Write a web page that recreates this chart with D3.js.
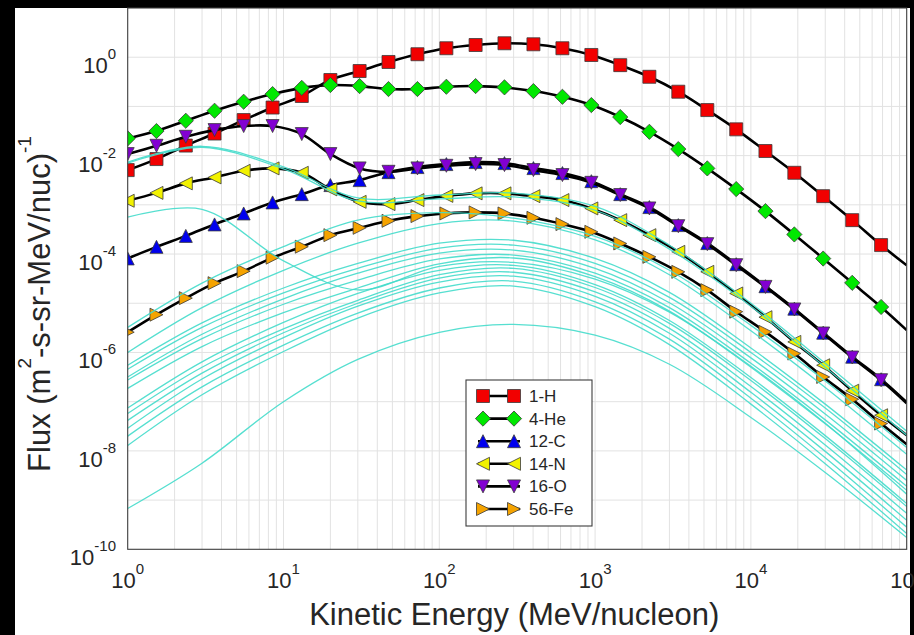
<!DOCTYPE html>
<html>
<head>
<meta charset="utf-8">
<script src="https://cdn.jsdelivr.net/npm/d3@7"></script>
<style>
  html, body { margin: 0; padding: 0; background: #000; }
  svg { display: block; }
  text { font-family: "Liberation Sans", Arial, Helvetica, sans-serif; }
</style>
</head>
<body>
<svg id="chart" width="914" height="635"></svg>
<script>
// ---- Data -------------------------------------------------------------
// Kinetic energy grid (MeV/nucleon) for the marked species; the last point
// only carries the line to the edge of the axis and gets no marker.
const energy = [1, 1.53, 2.36, 3.61, 5.55, 8.51, 13.1, 20.0, 30.8, 47.2, 72.4, 111, 171, 262,
  402, 617, 946, 1450, 2230, 3420, 5250, 8050, 12400, 19000, 29100, 44700, 68500, 100000];

// Flux, (m^2 s sr MeV/nuc)^-1
const fluxH = [5.08e-3, 8.51e-3, 1.60e-2, 2.81e-2, 5.28e-2, 9.48e-2, 0.163, 0.344, 0.524, 0.80,
  1.15, 1.52, 1.77, 1.92, 1.83, 1.52, 1.11, 0.69, 0.40, 0.199, 0.0843, 0.0342, 0.0124,
  4.48e-3, 1.50e-3, 4.89e-4, 1.52e-4, 5.9e-5];
const fluxHe = [0.0224, 0.0316, 0.0511, 0.0817, 0.1245, 0.178, 0.238, 0.272, 0.259, 0.2255,
  0.2255, 0.251, 0.259, 0.244, 0.205, 0.157, 0.1066, 0.0608, 0.0305, 0.01358, 5.5e-3,
  2.09e-3, 7.45e-4, 2.5e-4, 8.1e-5, 2.6e-5, 8.4e-6, 2.84e-6];
const fluxC = [8.14e-5, 1.40e-4, 2.34e-4, 4.0e-4, 6.68e-4, 1.12e-3, 1.65e-3, 2.52e-3, 3.18e-3,
  4.62e-3, 5.85e-3, 6.73e-3, 7.39e-3, 7.05e-3, 5.58e-3, 4.42e-3, 3.03e-3, 1.65e-3, 9.0e-4,
  3.87e-4, 1.67e-4, 6.23e-5, 2.22e-5, 7.76e-6, 2.52e-6, 8.2e-7, 2.86e-7, 9.7e-8];
const fluxN = [1.21e-3, 1.75e-3, 2.73e-3, 3.61e-3, 4.92e-3, 5.5e-3, 4.48e-3, 2.06e-3, 1.15e-3,
  1.035e-3, 1.25e-3, 1.52e-3, 1.71e-3, 1.71e-3, 1.50e-3, 1.25e-3, 8.45e-4, 4.89e-4, 2.42e-4,
  1.11e-4, 4.35e-5, 1.58e-5, 5.21e-6, 1.64e-6, 5.5e-7, 1.67e-7, 5.3e-8, 2.08e-8];
const fluxO = [0.01074, 0.01585, 0.02415, 0.0330, 0.0399, 0.0399, 0.0274, 0.01074, 5.5e-3,
  4.69e-3, 5.5e-3, 6.21e-3, 6.73e-3, 6.43e-3, 5.08e-3, 4.02e-3, 2.8e-3, 1.58e-3, 8.45e-4,
  3.69e-4, 1.59e-4, 5.94e-5, 2.15e-5, 7.48e-6, 2.43e-6, 7.9e-7, 2.73e-7, 9.3e-8];
const fluxFe = [2.58e-6, 5.86e-6, 1.27e-5, 2.56e-5, 4.49e-5, 8.45e-5, 1.41e-4, 2.42e-4, 3.41e-4,
  4.73e-4, 5.9e-4, 6.68e-4, 7.02e-4, 6.68e-4, 5.45e-4, 4.06e-4, 2.83e-4, 1.64e-4, 8.77e-5,
  4.35e-5, 1.85e-5, 6.74e-6, 2.62e-6, 9.5e-7, 3.18e-7, 1.12e-7, 3.59e-8, 1.36e-8];

const seriesNames = ["1-H", "4-He", "12-C", "14-N", "16-O", "56-Fe"];
const seriesFlux = [fluxH, fluxHe, fluxC, fluxN, fluxO, fluxFe];

// Remaining species (no markers): log10 of flux on a coarser energy grid
const otherEnergy = [1, 3, 10, 30, 100, 300, 1000, 3000, 10000, 30000, 100000];
const otherLogFlux = [
  [-2.13, -1.81, -2.23, -2.86, -2.80, -2.76, -3.03, -3.82, -5.00, -6.22, -7.60],
  [-2.15, -1.83, -2.27, -2.92, -2.88, -2.84, -3.11, -3.90, -5.06, -6.30, -7.68],
  [-3.25, -3.09, -4.14, -4.73, -4.25, -4.17, -4.51, -5.18, -6.28, -7.44, -8.88],
  [-5.49, -4.59, -3.85, -3.31, -3.16, -3.27, -3.64, -4.33, -5.45, -6.58, -7.93],
  [-6.00, -5.09, -4.33, -3.78, -3.38, -3.33, -3.71, -4.42, -5.56, -6.71, -8.07],
  [-6.26, -5.40, -4.69, -4.19, -3.78, -3.72, -4.09, -4.78, -5.91, -7.05, -8.39],
  [-6.34, -5.49, -4.79, -4.29, -3.88, -3.82, -4.19, -4.88, -6.00, -7.13, -8.48],
  [-6.50, -5.63, -4.91, -4.39, -3.98, -3.92, -4.29, -4.99, -6.11, -7.25, -8.60],
  [-6.56, -5.72, -5.02, -4.53, -4.10, -4.02, -4.39, -5.09, -6.22, -7.37, -8.72],
  [-6.73, -5.88, -5.19, -4.69, -4.20, -4.08, -4.46, -5.16, -6.30, -7.45, -8.80],
  [-7.13, -6.19, -5.39, -4.80, -4.33, -4.23, -4.62, -5.35, -6.51, -7.69, -9.07],
  [-7.24, -6.30, -5.52, -4.94, -4.42, -4.29, -4.68, -5.41, -6.57, -7.75, -9.13],
  [-7.38, -6.42, -5.60, -5.00, -4.49, -4.37, -4.77, -5.51, -6.69, -7.88, -9.27],
  [-7.54, -6.54, -5.70, -5.06, -4.57, -4.45, -4.86, -5.61, -6.81, -8.01, -9.41],
  [-7.70, -6.70, -5.85, -5.20, -4.69, -4.55, -4.97, -5.73, -6.93, -8.14, -9.55],
  [-7.89, -6.86, -5.98, -5.30, -4.79, -4.65, -5.07, -5.84, -7.05, -8.26, -9.68],
  [-9.17, -8.25, -7.00, -6.14, -5.59, -5.43, -5.65, -6.24, -7.32, -8.44, -9.76]
];

// Axis tick labels (powers of ten)
const xTickExp = [0, 1, 2, 3, 4, 5];
const yTickExp = [0, -2, -4, -6, -8, -10];

// ---- Styles -----------------------------------------------------------
const seriesFill = ["#f20000", "#00e800", "#0000ee", "#f2f200", "#8200d2", "#f5a300"];
const seriesShape = ["square", "diamond", "up", "left", "down", "right"];
const otherColor = "#44dccb";

// ---- Layout -----------------------------------------------------------
const W = 914, H = 635;
const plot = { left: 127.7, right: 906.7, top: 8, bottom: 549.3 };

const svg = d3.select("#chart");
svg.append("rect").attr("width", W).attr("height", H).attr("fill", "#000");
svg.append("rect").attr("x", 15).attr("y", 8).attr("width", 895).attr("height", H - 8).attr("fill", "#fff");

const x = d3.scaleLog().domain([1, 1e5]).range([plot.left, plot.right]);
const y = d3.scaleLog().domain([1e-10, 10]).range([plot.bottom, plot.top]);

svg.append("defs").append("clipPath").attr("id", "plotClip")
  .append("rect").attr("x", plot.left).attr("y", plot.top)
  .attr("width", plot.right - plot.left).attr("height", plot.bottom - plot.top);

// ---- Grid -------------------------------------------------------------
const grid = svg.append("g").attr("stroke", "#e2e2e2").attr("stroke-width", 1);
grid.selectAll("line.vx").data(x.ticks().filter(v => v > 1 && v < 1e5)).enter()
  .append("line")
  .attr("x1", d => x(d)).attr("x2", d => x(d))
  .attr("y1", plot.top).attr("y2", plot.bottom);
grid.selectAll("line.hy").data(d3.range(-9, 1).map(e => Math.pow(10, e))).enter()
  .append("line")
  .attr("y1", d => y(d)).attr("y2", d => y(d))
  .attr("x1", plot.left).attr("x2", plot.right);

// ---- Marker shapes ----------------------------------------------------
function markerPath(shape) {
  const h = 6.5;
  switch (shape) {
    case "square":  return `M${-h},${-h}H${h}V${h}H${-h}Z`;
    case "diamond": { const d = 7.6; return `M0,${-d}L${d},0L0,${d}L${-d},0Z`; }
    case "up":      return `M0,${-h}L${h},${h}L${-h},${h}Z`;
    case "down":    return `M0,${h}L${h},${-h}L${-h},${-h}Z`;
    case "left":    return `M${-h},0L${h},${-h}L${h},${h}Z`;
    case "right":   return `M${h},0L${-h},${-h}L${-h},${h}Z`;
  }
}

// ---- Curves -----------------------------------------------------------
const plotArea = svg.append("g").attr("clip-path", "url(#plotClip)");
const curve = d3.curveCatmullRom.alpha(0.5);

const seriesLine = d3.line()
  .x(d => x(d[0])).y(d => y(d[1])).curve(curve);

seriesFlux.forEach((flux, k) => {
  const pts = energy.map((e, i) => [e, flux[i]]);
  const g = plotArea.append("g").attr("class", "series");
  g.append("path").attr("d", seriesLine(pts))
    .attr("fill", "none").attr("stroke", "#000").attr("stroke-width", 2.6);
  g.selectAll("path.mk").data(pts.slice(0, -1)).enter()
    .append("path")
    .attr("d", markerPath(seriesShape[k]))
    .attr("transform", d => `translate(${x(d[0])},${y(d[1])})`)
    .attr("fill", seriesFill[k])
    .attr("stroke", "#3a3a3a").attr("stroke-width", 0.8);
});

const otherLine = d3.line()
  .x((d, i) => x(otherEnergy[i])).y(d => y(Math.pow(10, d))).curve(curve);
plotArea.append("g").selectAll("path").data(otherLogFlux).enter()
  .append("path")
  .attr("d", d => otherLine(d))
  .attr("fill", "none").attr("stroke", otherColor)
  .attr("stroke-opacity", 0.9).attr("stroke-width", 1.3);

// ---- Axes box ---------------------------------------------------------
svg.append("rect")
  .attr("x", plot.left).attr("y", plot.top)
  .attr("width", plot.right - plot.left).attr("height", plot.bottom - plot.top)
  .attr("fill", "none").attr("stroke", "#3c3c3c").attr("stroke-width", 1.1);

// ---- Tick labels ------------------------------------------------------
const labelColor = "#262626";
xTickExp.forEach(e => {
  const t = svg.append("text")
    .attr("x", x(Math.pow(10, e))).attr("y", 588)
    .attr("text-anchor", "middle").attr("font-size", 22).attr("fill", labelColor);
  t.append("tspan").text("10");
  t.append("tspan").attr("dy", -14).attr("font-size", 15).text(String(e));
});
yTickExp.forEach(e => {
  const t = svg.append("text")
    .attr("x", 116).attr("y", y(Math.pow(10, e)) + 16)
    .attr("text-anchor", "end").attr("font-size", 22).attr("fill", labelColor);
  t.append("tspan").text("10");
  t.append("tspan").attr("dy", -14).attr("font-size", 15).text(String(e));
});

// ---- Axis titles ------------------------------------------------------
svg.append("text")
  .attr("x", (plot.left + plot.right) / 2 - 3).attr("y", 625)
  .attr("text-anchor", "middle").attr("font-size", 31).attr("fill", labelColor)
  .text("Kinetic Energy (MeV/nucleon)");

const yTitle = svg.append("text")
  .attr("transform", "translate(50,304) rotate(-90)")
  .attr("text-anchor", "middle").attr("font-size", 31).attr("fill", labelColor);
yTitle.append("tspan").text("Flux (m");
yTitle.append("tspan").attr("dy", -19).attr("font-size", 19).text("2");
yTitle.append("tspan").attr("dy", 19).text("-s-sr-MeV/nuc)");
yTitle.append("tspan").attr("dy", -19).attr("font-size", 19).text("-1");

// ---- Legend -----------------------------------------------------------
const legend = svg.append("g").attr("transform", "translate(466,380)");
legend.append("rect").attr("width", 126).attr("height", 146)
  .attr("fill", "#fff").attr("stroke", "#3c3c3c").attr("stroke-width", 1.1);
seriesNames.forEach((name, k) => {
  const row = legend.append("g").attr("transform", `translate(0,${16 + k * 22.6})`);
  row.append("line").attr("x1", 12).attr("x2", 54).attr("y1", 0).attr("y2", 0)
    .attr("stroke", "#000").attr("stroke-width", 2.6);
  [17, 48].forEach(px => row.append("path")
    .attr("d", markerPath(seriesShape[k]))
    .attr("transform", `translate(${px},0)`)
    .attr("fill", seriesFill[k]).attr("stroke", "#3a3a3a").attr("stroke-width", 0.8));
  row.append("text").attr("x", 63).attr("y", 6)
    .attr("font-size", 17).attr("fill", labelColor).text(name);
});
</script>
</body>
</html>
